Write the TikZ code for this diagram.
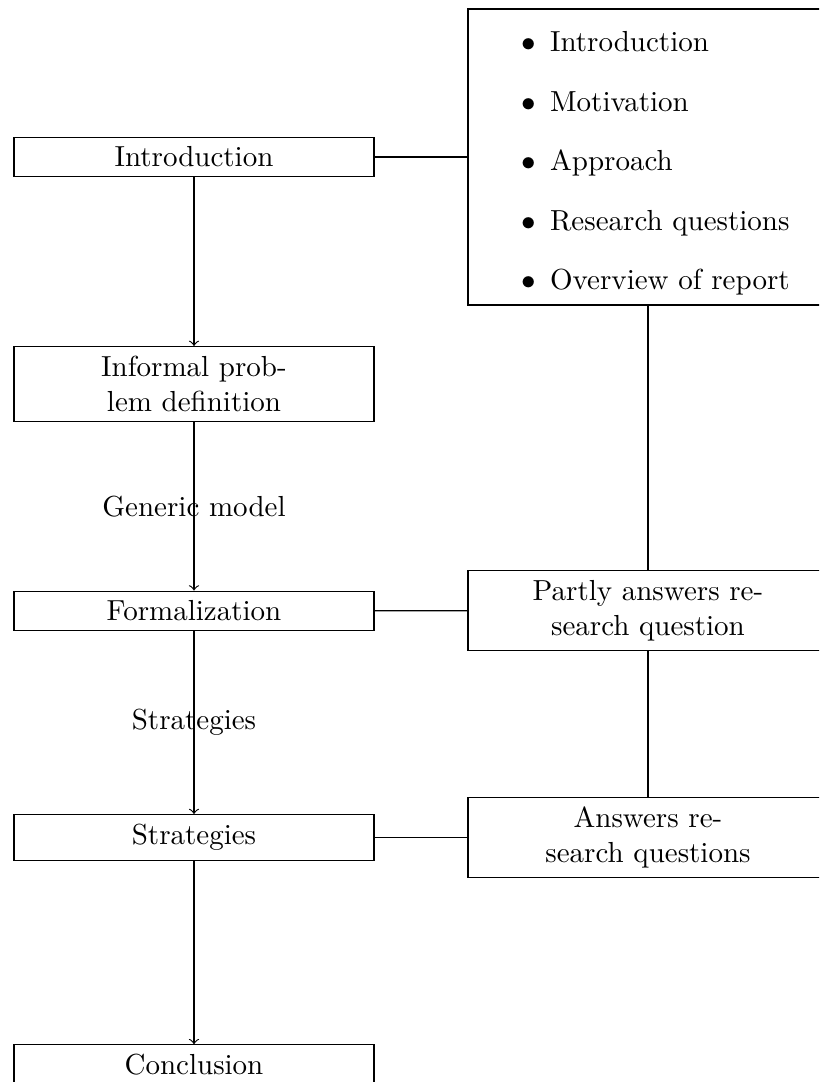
\documentclass[tikz,border=0pt]{standalone}
\begin{document}
\begin{tikzpicture}[x=0.3448pt,y=-0.3448pt,
  box/.style={draw, rectangle, text width=117.5pt, align=center, inner sep=0.3333em},
  arr/.style={->},
  lbl/.style={}]
\clip (0,0) rectangle (819,1082);
% left column
\node[box] (intro) at (194,157) {Introduction};
\node[box] (inf) at (194,384) {Informal prob-\\lem definition};
\node[box] (form) at (194,611) {Formalization};
\node[box] (strat) at (194,837.5) {Strategies};
\node[box] (concl) at (194,1065) {Conclusion};
% right column
\node[box, align=left] (ov) at (648,157) {%
\rule{0pt}{11.5pt}\makebox[25pt][l]{\makebox[20pt][r]{$\bullet$}}Introduction\\[8.5pt]
\makebox[25pt][l]{\makebox[20pt][r]{$\bullet$}}Motivation\\[8.5pt]
\makebox[25pt][l]{\makebox[20pt][r]{$\bullet$}}Approach\\[8.5pt]
\makebox[25pt][l]{\makebox[20pt][r]{$\bullet$}}Research questions\\[8.5pt]
\makebox[25pt][l]{\makebox[20pt][r]{$\bullet$}}Overview of report};
\node[box] (part) at (648,610.5) {Partly answers re-\\search question};
\node[box] (ans) at (648,837.5) {Answers re-\\search questions};
% arrows
\draw[arr] (intro) -- (inf);
\draw[arr] (inf) -- node[lbl]{Generic model} (form);
\draw[arr] (form) -- node[lbl]{Strategies} (strat);
\draw[arr] (strat) -- (concl);
% plain links
\draw (intro) -- (ov);
\draw (form) -- (part);
\draw (strat) -- (ans);
\draw (ov) -- (part);
\draw (part) -- (ans);
\end{tikzpicture}
\end{document}
